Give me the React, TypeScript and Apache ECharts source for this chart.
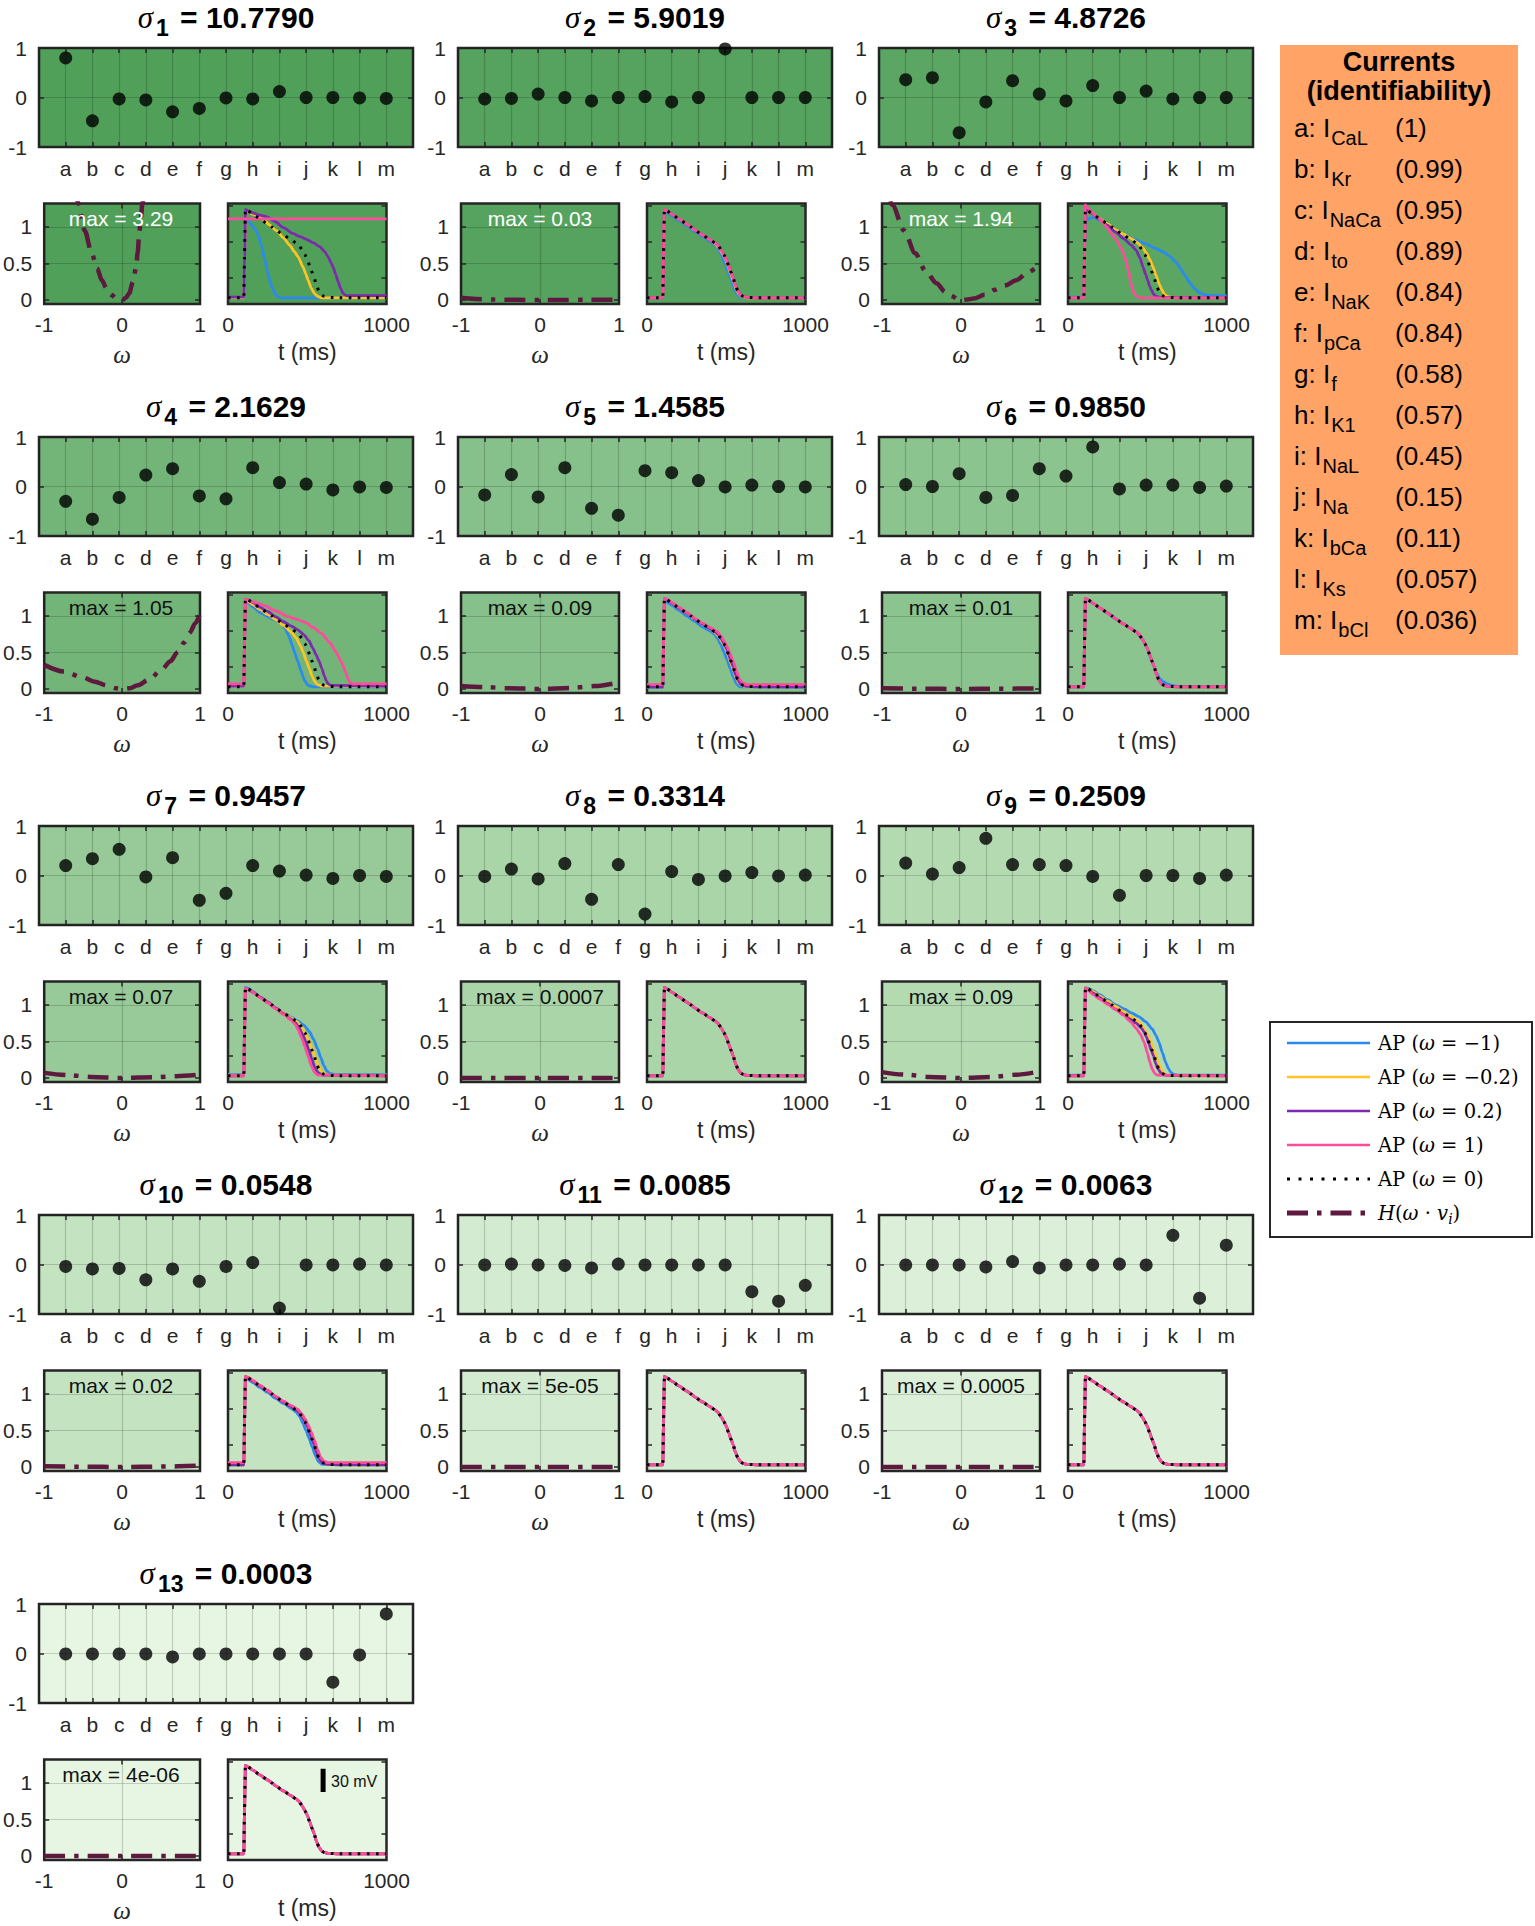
import React, { useEffect, useRef } from "react";
import * as echarts from "echarts";

// ---------------- data ----------------
const CATEGORIES = ["a", "b", "c", "d", "e", "f", "g", "h", "i", "j", "k", "l", "m"];
const SIGMA_INDEX = ["1", "2", "3", "4", "5", "6", "7", "8", "9", "10", "11", "12", "13"];
const SIGMA_VALUES = ["10.7790", "5.9019", "4.8726", "2.1629", "1.4585", "0.9850", "0.9457", "0.3314", "0.2509", "0.0548", "0.0085", "0.0063", "0.0003"];
const H_MAX_LABELS = ["3.29", "0.03", "1.94", "1.05", "0.09", "0.01", "0.07", "0.0007", "0.09", "0.02", "5e-05", "0.0005", "4e-06"];

const V1 = [0.8, -0.47, -0.03, -0.05, -0.29, -0.22, -0.01, -0.03, 0.12, 0.0, 0.0, -0.01, -0.02];
const V2 = [-0.03, -0.02, 0.07, 0.0, -0.07, 0.0, 0.02, -0.09, 0.0, 0.98, 0.0, 0.0, 0.0];
const V3 = [0.36, 0.4, -0.71, -0.09, 0.34, 0.07, -0.07, 0.24, 0.0, 0.13, -0.03, 0.0, 0.0];
const V4 = [-0.3, -0.66, -0.22, 0.23, 0.36, -0.19, -0.25, 0.38, 0.08, 0.05, -0.07, -0.01, -0.02];
const V5 = [-0.17, 0.24, -0.21, 0.38, -0.44, -0.58, 0.32, 0.28, 0.12, -0.01, 0.03, 0.0, -0.01];
const V6 = [0.04, 0.0, 0.26, -0.22, -0.18, 0.36, 0.21, 0.8, -0.05, 0.03, 0.03, -0.02, 0.01];
const V7 = [0.2, 0.34, 0.53, -0.03, 0.36, -0.5, -0.36, 0.2, 0.09, 0.01, -0.06, 0.0, -0.02];
const V8 = [-0.02, 0.13, -0.07, 0.24, -0.48, 0.22, -0.78, 0.08, -0.08, -0.01, 0.06, -0.01, 0.01];
const V9 = [0.25, 0.03, 0.16, 0.75, 0.22, 0.22, 0.2, -0.02, -0.4, 0.0, 0.0, -0.06, 0.01];
const V10 = [-0.04, -0.09, -0.08, -0.31, -0.09, -0.34, -0.04, 0.04, -0.88, -0.01, -0.01, 0.01, -0.01];
const V11 = [-0.01, 0.01, -0.01, -0.02, -0.07, 0.01, -0.01, -0.01, -0.01, -0.01, -0.55, -0.74, -0.42];
const V12 = [-0.01, -0.01, -0.01, -0.05, 0.06, -0.07, -0.01, -0.01, 0.01, -0.01, 0.59, -0.68, 0.39];
const V13 = [-0.01, -0.01, -0.01, -0.01, -0.07, -0.01, -0.01, -0.01, -0.01, -0.01, -0.58, -0.03, 0.8];

const H1 = [[-1, 3.29], [-0.8, 2.6], [-0.65, 1.85], [-0.56, 1.32], [-0.48, 0.95], [-0.39, 0.64], [-0.32, 0.43], [-0.26, 0.27], [-0.2, 0.16], [-0.14, 0.07], [-0.07, 0.02], [0, 0], [0.05, 0.03], [0.09, 0.09], [0.14, 0.25], [0.18, 0.45], [0.2, 0.65], [0.22, 0.91], [0.24, 1.1], [0.26, 1.32], [0.3, 1.7], [0.5, 2.6], [1, 3.2]];
const H2 = [[-1, 0.03], [-0.9, 0.02], [-0.8, 0.013], [-0.6, 0.007], [-0.3, 0.002], [0, 0], [0.3, 0.001], [0.6, 0.002], [1, 0.004]];
const H3 = [[-1, 1.94], [-0.87, 1.3], [-0.72, 0.95], [-0.58, 0.64], [-0.45, 0.4], [-0.31, 0.23], [-0.2, 0.11], [-0.11, 0.05], [-0.04, 0.01], [0.02, 0], [0.1, 0.01], [0.16, 0.02], [0.3, 0.07], [0.43, 0.14], [0.56, 0.2], [0.7, 0.27], [0.85, 0.38], [1, 0.5]];
const H4 = [[-1, 0.33], [-0.75, 0.24], [-0.51, 0.16], [-0.35, 0.1], [-0.2, 0.05], [-0.08, 0.01], [0, 0], [0.1, 0.01], [0.2, 0.05], [0.35, 0.13], [0.51, 0.27], [0.62, 0.38], [0.71, 0.5], [0.8, 0.64], [0.87, 0.77], [0.94, 0.9], [1, 1.03]];
const H5 = [[-1, 0.04], [-0.7, 0.025], [-0.4, 0.01], [0, 0], [0.4, 0.015], [0.7, 0.04], [1, 0.09]];
const H6 = [[-1, 0.01], [-0.5, 0.004], [0, 0], [0.5, 0.004], [1, 0.008]];
const H7 = [[-1, 0.07], [-0.7, 0.04], [-0.4, 0.015], [0, 0], [0.4, 0.01], [0.7, 0.025], [1, 0.045]];
const H8 = [[-1, 0.0007], [0, 0], [1, 0.0005]];
const H9 = [[-1, 0.08], [-0.7, 0.045], [-0.4, 0.015], [0, 0], [0.4, 0.015], [0.7, 0.045], [1, 0.09]];
const H10 = [[-1, 0.01], [-0.5, 0.003], [0, 0], [0.5, 0.005], [1, 0.02]];
const H11 = [[-1, 0.00005], [0, 0], [1, 0.00004]];
const H12 = [[-1, 0.0005], [0, 0], [1, 0.0004]];
const H13 = [[-1, 0.000004], [0, 0], [1, 0.000003]];

// AP (omega = 0), normalised
const AP_OMEGA0 = [[0, 0.03], [100, 0.03], [104, 0.6], [110, 1.24], [125, 1.22], [160, 1.17], [200, 1.11], [250, 1.04], [277, 1.0], [300, 0.96], [350, 0.89], [394, 0.83], [430, 0.78], [447, 0.75], [470, 0.68], [485, 0.62], [500, 0.56], [515, 0.47], [530, 0.38], [543, 0.31], [558, 0.2], [574, 0.12], [590, 0.07], [606, 0.05], [630, 0.035], [700, 0.03], [1000, 0.03]];

const AP1_BLUE = [[0, 0.03], [100, 0.03], [105, 0.6], [112, 1.11], [130, 1.08], [160, 1.0], [190, 0.9], [210, 0.75], [232, 0.55], [248, 0.4], [263, 0.27], [280, 0.16], [295, 0.09], [310, 0.05], [330, 0.03], [1000, 0.03]];
const AP1_YELLOW = [[0, 0.03], [100, 0.03], [105, 0.6], [112, 1.22], [125, 1.21], [160, 1.17], [221, 1.11], [260, 1.03], [305, 0.95], [350, 0.85], [389, 0.75], [420, 0.66], [442, 0.59], [474, 0.45], [490, 0.36], [505, 0.27], [526, 0.16], [545, 0.09], [565, 0.05], [590, 0.03], [1000, 0.03]];
const AP1_PURPLE = [[0, 0.04], [100, 0.04], [105, 0.6], [111, 1.24], [125, 1.22], [160, 1.19], [200, 1.16], [242, 1.14], [300, 1.07], [350, 0.99], [410, 0.91], [450, 0.87], [495, 0.83], [540, 0.78], [579, 0.73], [610, 0.66], [632, 0.59], [650, 0.51], [663, 0.45], [680, 0.35], [695, 0.25], [712, 0.15], [726, 0.09], [745, 0.06], [1000, 0.06]];
const AP1_PINK = [[0, 1.11], [1000, 1.11]];

const AP2_BLUE = [[0, 0.03], [100, 0.03], [104, 0.6], [110, 1.22], [125, 1.2], [160, 1.15], [200, 1.09], [250, 1.02], [300, 0.94], [350, 0.87], [400, 0.8], [430, 0.75], [452, 0.69], [472, 0.6], [492, 0.5], [512, 0.39], [532, 0.27], [552, 0.15], [572, 0.07], [595, 0.035], [1000, 0.03]];
const AP2_YELLOW = [[0, 0.03], [100, 0.03], [104, 0.6], [110, 1.24], [125, 1.22], [160, 1.17], [200, 1.11], [250, 1.04], [300, 0.96], [350, 0.89], [394, 0.83], [430, 0.77], [455, 0.71], [478, 0.63], [495, 0.56], [512, 0.46], [528, 0.36], [545, 0.26], [562, 0.15], [580, 0.08], [600, 0.045], [625, 0.03], [1000, 0.03]];

const AP3_BLUE = [[0, 0.04], [100, 0.04], [104, 0.6], [110, 1.18], [122, 1.1], [140, 1.12], [160, 1.13], [200, 1.09], [250, 1.02], [305, 0.95], [360, 0.89], [420, 0.83], [488, 0.77], [550, 0.71], [600, 0.66], [640, 0.6], [680, 0.52], [710, 0.43], [740, 0.33], [770, 0.23], [800, 0.15], [830, 0.1], [860, 0.07], [900, 0.06], [1000, 0.06]];
const AP3_YELLOW = [[0, 0.03], [100, 0.03], [104, 0.6], [110, 1.24], [125, 1.22], [160, 1.17], [200, 1.11], [250, 1.04], [300, 0.96], [350, 0.9], [400, 0.84], [440, 0.78], [470, 0.72], [495, 0.64], [515, 0.56], [535, 0.46], [555, 0.34], [575, 0.22], [592, 0.14], [608, 0.08], [625, 0.05], [650, 0.035], [1000, 0.03]];
const AP3_PURPLE = [[0, 0.03], [100, 0.03], [104, 0.6], [110, 1.24], [125, 1.22], [160, 1.17], [200, 1.1], [250, 1.02], [300, 0.93], [350, 0.84], [400, 0.75], [430, 0.68], [455, 0.57], [473, 0.45], [490, 0.35], [503, 0.27], [515, 0.19], [525, 0.14], [540, 0.08], [555, 0.05], [580, 0.035], [1000, 0.03]];
const AP3_PINK = [[0, 0.03], [100, 0.03], [104, 0.6], [109, 1.3], [125, 1.26], [150, 1.2], [183, 1.14], [215, 1.07], [244, 1.0], [275, 0.91], [305, 0.82], [330, 0.73], [351, 0.64], [368, 0.52], [381, 0.41], [390, 0.31], [397, 0.23], [410, 0.13], [421, 0.07], [440, 0.04], [470, 0.03], [1000, 0.03]];

const AP4_BLUE = [[0, 0.06], [100, 0.06], [104, 0.6], [110, 1.2], [125, 1.18], [160, 1.12], [200, 1.05], [250, 0.99], [300, 0.94], [333, 0.9], [360, 0.83], [385, 0.72], [405, 0.6], [420, 0.5], [440, 0.38], [460, 0.25], [475, 0.16], [487, 0.1], [505, 0.05], [538, 0.03], [1000, 0.03]];
const AP4_YELLOW = [[0, 0.04], [100, 0.04], [104, 0.6], [110, 1.22], [125, 1.2], [160, 1.15], [200, 1.09], [250, 1.02], [300, 0.95], [350, 0.87], [400, 0.78], [430, 0.7], [455, 0.6], [475, 0.5], [495, 0.38], [513, 0.28], [530, 0.18], [548, 0.1], [564, 0.06], [590, 0.04], [1000, 0.04]];
const AP4_PURPLE = [[0, 0.04], [100, 0.04], [104, 0.6], [110, 1.23], [125, 1.22], [160, 1.18], [200, 1.12], [250, 1.06], [300, 0.99], [350, 0.92], [400, 0.86], [440, 0.81], [480, 0.74], [510, 0.66], [535, 0.56], [555, 0.47], [575, 0.38], [592, 0.28], [608, 0.18], [620, 0.11], [632, 0.07], [650, 0.05], [1000, 0.04]];
const AP4_PINK = [[0, 0.07], [100, 0.07], [104, 0.6], [110, 1.23], [125, 1.22], [160, 1.19], [231, 1.14], [300, 1.07], [380, 0.99], [440, 0.95], [487, 0.91], [540, 0.84], [590, 0.76], [641, 0.64], [680, 0.51], [718, 0.36], [740, 0.24], [755, 0.15], [769, 0.09], [785, 0.07], [1000, 0.07]];

const AP5_BLUE = [[0, 0.02], [100, 0.02], [104, 0.6], [110, 1.21], [125, 1.19], [160, 1.14], [200, 1.08], [250, 1.0], [300, 0.93], [350, 0.85], [400, 0.79], [425, 0.75], [445, 0.69], [465, 0.61], [485, 0.51], [505, 0.4], [525, 0.28], [545, 0.16], [565, 0.07], [585, 0.03], [1000, 0.02]];
const AP5_PINK = [[0, 0.06], [100, 0.06], [104, 0.6], [110, 1.24], [125, 1.23], [160, 1.18], [200, 1.12], [250, 1.05], [300, 0.97], [350, 0.9], [400, 0.84], [440, 0.79], [465, 0.73], [485, 0.66], [505, 0.58], [525, 0.48], [545, 0.37], [565, 0.24], [585, 0.13], [605, 0.08], [630, 0.06], [1000, 0.06]];

const AP6_BLUE = [[0, 0.03], [100, 0.03], [104, 0.6], [110, 1.24], [125, 1.22], [160, 1.17], [200, 1.11], [250, 1.04], [300, 0.96], [350, 0.89], [394, 0.83], [430, 0.78], [470, 0.68], [500, 0.56], [530, 0.38], [558, 0.22], [580, 0.14], [600, 0.1], [625, 0.07], [655, 0.05], [700, 0.035], [1000, 0.03]];

const AP7_BLUE = [[0, 0.05], [100, 0.05], [104, 0.6], [110, 1.24], [125, 1.23], [160, 1.18], [200, 1.11], [250, 1.04], [300, 0.96], [350, 0.89], [400, 0.83], [440, 0.78], [480, 0.72], [515, 0.63], [540, 0.53], [565, 0.4], [585, 0.28], [605, 0.17], [625, 0.09], [645, 0.06], [670, 0.05], [1000, 0.05]];
const AP7_YELLOW = [[0, 0.04], [100, 0.04], [104, 0.6], [110, 1.23], [125, 1.21], [160, 1.17], [200, 1.11], [250, 1.04], [300, 0.96], [350, 0.89], [400, 0.82], [435, 0.77], [460, 0.71], [485, 0.62], [508, 0.52], [530, 0.4], [550, 0.28], [570, 0.17], [590, 0.09], [610, 0.05], [640, 0.04], [1000, 0.04]];
const AP7_PURPLE = [[0, 0.03], [100, 0.03], [104, 0.6], [110, 1.23], [125, 1.21], [160, 1.17], [200, 1.11], [250, 1.04], [300, 0.96], [350, 0.88], [400, 0.8], [428, 0.75], [450, 0.68], [470, 0.6], [490, 0.5], [510, 0.38], [530, 0.25], [550, 0.13], [570, 0.07], [595, 0.04], [1000, 0.03]];
const AP7_PINK = [[0, 0.03], [100, 0.03], [104, 0.6], [110, 1.23], [125, 1.21], [160, 1.17], [200, 1.1], [250, 1.03], [300, 0.95], [350, 0.87], [400, 0.79], [425, 0.73], [445, 0.65], [465, 0.55], [485, 0.43], [505, 0.3], [525, 0.17], [545, 0.08], [565, 0.04], [1000, 0.03]];

const AP9_BLUE = [[0, 0.04], [100, 0.04], [104, 0.6], [110, 1.24], [125, 1.23], [160, 1.19], [200, 1.14], [250, 1.07], [300, 1.0], [359, 0.94], [400, 0.89], [447, 0.84], [490, 0.77], [532, 0.67], [555, 0.58], [574, 0.49], [595, 0.35], [617, 0.21], [633, 0.13], [649, 0.08], [665, 0.05], [690, 0.04], [1000, 0.04]];
const AP9_YELLOW = [[0, 0.03], [100, 0.03], [104, 0.6], [110, 1.24], [125, 1.22], [160, 1.18], [200, 1.12], [250, 1.05], [300, 0.98], [350, 0.91], [400, 0.84], [447, 0.77], [470, 0.71], [500, 0.6], [520, 0.5], [545, 0.36], [560, 0.27], [574, 0.19], [590, 0.11], [606, 0.06], [625, 0.04], [650, 0.03], [1000, 0.03]];
const AP9_PURPLE = [[0, 0.03], [100, 0.03], [104, 0.6], [110, 1.23], [125, 1.21], [160, 1.16], [200, 1.1], [250, 1.02], [300, 0.94], [350, 0.87], [394, 0.8], [430, 0.75], [465, 0.68], [480, 0.63], [495, 0.56], [510, 0.47], [525, 0.38], [538, 0.31], [553, 0.2], [569, 0.12], [585, 0.07], [601, 0.05], [625, 0.035], [1000, 0.03]];
const AP9_PINK = [[0, 0.03], [100, 0.03], [104, 0.6], [110, 1.23], [125, 1.2], [160, 1.14], [200, 1.08], [256, 1.0], [300, 0.94], [350, 0.86], [394, 0.77], [430, 0.68], [457, 0.6], [480, 0.49], [500, 0.35], [516, 0.22], [532, 0.12], [548, 0.06], [564, 0.04], [1000, 0.03]];

// per panel traces: [blue (w=-1), yellow (w=-0.2), purple (w=0.2), pink (w=1)]
const AP_BLUE = [AP1_BLUE, AP2_BLUE, AP3_BLUE, AP4_BLUE, AP5_BLUE, AP6_BLUE, AP7_BLUE, AP_OMEGA0, AP9_BLUE, AP2_BLUE, AP_OMEGA0, AP_OMEGA0, AP_OMEGA0];
const AP_YELLOW = [AP1_YELLOW, AP2_YELLOW, AP3_YELLOW, AP4_YELLOW, AP2_YELLOW, AP_OMEGA0, AP7_YELLOW, AP_OMEGA0, AP9_YELLOW, AP_OMEGA0, AP_OMEGA0, AP_OMEGA0, AP_OMEGA0];
const AP_PURPLE = [AP1_PURPLE, AP_OMEGA0, AP3_PURPLE, AP4_PURPLE, AP_OMEGA0, AP_OMEGA0, AP7_PURPLE, AP_OMEGA0, AP9_PURPLE, AP_OMEGA0, AP_OMEGA0, AP_OMEGA0, AP_OMEGA0];
const AP_PINK = [AP1_PINK, AP_OMEGA0, AP3_PINK, AP4_PINK, AP5_PINK, AP_OMEGA0, AP7_PINK, AP_OMEGA0, AP9_PINK, AP5_PINK, AP_OMEGA0, AP_OMEGA0, AP_OMEGA0];

const DOTS = [V1, V2, V3, V4, V5, V6, V7, V8, V9, V10, V11, V12, V13];
const HCURVES = [H1, H2, H3, H4, H5, H6, H7, H8, H9, H10, H11, H12, H13];

// AP axis tick positions (normalised units) and 30 mV scale bar for the last panel
const AP_TICKS = [0.31, 0.8, 1.29];
const SCALE_BAR = [[600, 0.875], [600, 1.195]];
const SCALE_BAR_LABEL = "30 mV";

const CURRENT_SUBS = ["CaL", "Kr", "NaCa", "to", "NaK", "pCa", "f", "K1", "NaL", "Na", "bCa", "Ks", "bCl"];
const IDENTIFIABILITY = ["(1)", "(0.99)", "(0.95)", "(0.89)", "(0.84)", "(0.84)", "(0.58)", "(0.57)", "(0.45)", "(0.15)", "(0.11)", "(0.057)", "(0.036)"];

const LEGEND_OMEGAS = ["−1", "−0.2", "0.2", "1", "0"];

// ---------------- styles ----------------
const BG = ["#50a05a", "#55a35e", "#5aa662", "#73b578", "#86c08a", "#8cc48f", "#97ca98", "#a9d5a8", "#b4dab2", "#c4e3c1", "#d3ebd0", "#dcf0d9", "#e6f6e2"];
const C_BLUE = "#2a8af0";
const C_YELLOW = "#ffc323";
const C_PURPLE = "#7e2aae";
const C_PINK = "#ff4b9b";
const C_MAROON = "#5e1a3e";
const AX = "#262626";
const GRIDLINE = "rgba(0,0,0,0.17)";
const SANS = '"Liberation Sans", Arial, Helvetica, sans-serif';
const SERIF = '"Liberation Serif", "Times New Roman", serif';
const LSERIF = '"DejaVu Serif", serif';
const DASHDOT = [21, 9, 4.5, 9];
const DOTTED = [2.6, 6.4];

const ROW_STEP = 389;
const COL_X = [0, 419, 840];

function buildOption() {
  const grid: any[] = [];
  const xAxis: any[] = [];
  const yAxis: any[] = [];
  const series: any[] = [];
  const g: any[] = [];

  const tick = (show: boolean, custom?: number[]) => ({
    show,
    inside: true,
    length: 5,
    lineStyle: { color: AX, width: 1.5 },
    ...(custom ? { customValues: custom } : {}),
  });
  const noLine = { show: false, onZero: false };

  for (let k = 0; k < 13; k++) {
    const r = Math.floor(k / 3);
    const c = k % 3;
    const dx = COL_X[c];
    const dy = r * ROW_STEP;
    const box = { show: true, backgroundColor: BG[k], borderColor: AX, borderWidth: 2.5 };

    // ---- dot plot ----
    grid.push({ ...box, left: 39 + dx, top: 48 + dy, width: 374, height: 99 });
    let gi = grid.length - 1;
    const xD = xAxis.length;
    xAxis.push({
      type: "value", gridIndex: gi, position: "bottom", min: 0, max: 14, interval: 1,
      axisLine: noLine, axisTick: tick(true),
      axisLabel: { formatter: (v: number) => CATEGORIES[Math.round(v) - 1] ?? "", fontSize: 21, color: AX, fontFamily: SANS, margin: 11 },
      splitLine: { show: true, lineStyle: { color: GRIDLINE, width: 1.2 } },
    });
    xAxis.push({ type: "value", gridIndex: gi, position: "top", min: 0, max: 14, interval: 1, axisLine: noLine, axisTick: tick(true), axisLabel: { show: false }, splitLine: { show: false } });
    const yD = yAxis.length;
    yAxis.push({
      type: "value", gridIndex: gi, position: "left", min: -1, max: 1, interval: 1,
      axisLine: noLine, axisTick: tick(true),
      axisLabel: { fontSize: 21, color: AX, fontFamily: SANS, margin: 12 },
      splitLine: { show: true, lineStyle: { color: GRIDLINE, width: 1.2 } },
    });
    yAxis.push({ type: "value", gridIndex: gi, position: "right", min: -1, max: 1, interval: 1, axisLine: noLine, axisTick: tick(true), axisLabel: { show: false }, splitLine: { show: false } });
    series.push({
      type: "scatter", xAxisIndex: xD, yAxisIndex: yD,
      data: DOTS[k].map((v, i) => [i + 1, v]),
      symbolSize: 13, itemStyle: { color: "#000" }, z: 5,
    });

    // ---- H plot ----
    grid.push({ ...box, left: 42 + dx, top: 203.5 + dy, width: 158, height: 100.5 });
    gi = grid.length - 1;
    const xH = xAxis.length;
    xAxis.push({
      type: "value", gridIndex: gi, position: "bottom", min: -1, max: 1, interval: 1,
      axisLine: noLine, axisTick: tick(true),
      axisLabel: { fontSize: 21, color: AX, fontFamily: SANS, margin: 10, showMinLabel: true, showMaxLabel: true },
      splitLine: { show: true, lineStyle: { color: GRIDLINE, width: 1.2 } },
      name: "ω", nameLocation: "middle", nameGap: 38,
      nameTextStyle: { fontFamily: SERIF, fontStyle: "italic", fontSize: 25, color: AX },
    });
    xAxis.push({ type: "value", gridIndex: gi, position: "top", min: -1, max: 1, interval: 1, axisLine: noLine, axisTick: tick(true), axisLabel: { show: false }, splitLine: { show: false } });
    const yH = yAxis.length;
    yAxis.push({
      type: "value", gridIndex: gi, position: "left", min: -0.055, max: 1.32,
      axisLine: noLine, axisTick: tick(true, [0, 0.5, 1]),
      axisLabel: { customValues: [0, 0.5, 1], fontSize: 21, color: AX, fontFamily: SANS, margin: 12 },
      splitLine: { show: false },
    });
    yAxis.push({ type: "value", gridIndex: gi, position: "right", min: -0.055, max: 1.32, axisLine: noLine, axisTick: tick(true, [0, 0.5, 1]), axisLabel: { show: false }, splitLine: { show: false } });
    series.push({
      type: "line", xAxisIndex: xH, yAxisIndex: yH, data: HCURVES[k],
      showSymbol: false, symbol: "none", smooth: 0.3, smoothMonotone: "x", clip: true,
      lineStyle: { color: C_MAROON, width: 4.5, type: DASHDOT },
      markLine: {
        silent: true, symbol: "none", label: { show: false },
        lineStyle: { color: GRIDLINE, width: 1.2, type: "solid" },
        data: [{ yAxis: 0.5 }, { yAxis: 1 }],
      },
      z: 3,
    });

    // ---- AP plot ----
    grid.push({ ...box, left: 228 + dx, top: 203.5 + dy, width: 158.5, height: 100.5 });
    gi = grid.length - 1;
    const xA = xAxis.length;
    xAxis.push({
      type: "value", gridIndex: gi, position: "bottom", min: 0, max: 1000, interval: 1000,
      axisLine: noLine, axisTick: { show: false },
      axisLabel: { formatter: (v: number) => String(v), fontSize: 21, color: AX, fontFamily: SANS, margin: 10, showMinLabel: true, showMaxLabel: true },
      splitLine: { show: false },
      name: "t (ms)", nameLocation: "middle", nameGap: 36,
      nameTextStyle: { fontFamily: SANS, fontSize: 23, color: AX },
    });
    const yA = yAxis.length;
    yAxis.push({
      type: "value", gridIndex: gi, position: "left", min: -0.055, max: 1.32,
      axisLine: noLine, axisTick: tick(true, AP_TICKS),
      axisLabel: { show: false }, splitLine: { show: false },
    });
    yAxis.push({ type: "value", gridIndex: gi, position: "right", min: -0.055, max: 1.32, axisLine: noLine, axisTick: tick(true, AP_TICKS), axisLabel: { show: false }, splitLine: { show: false } });

    const traces: [any[], string][] = [
      [AP_BLUE[k], C_BLUE],
      [AP_YELLOW[k], C_YELLOW],
      [AP_PURPLE[k], C_PURPLE],
      [AP_PINK[k], C_PINK],
    ];
    traces.forEach(([data, color]) => {
      series.push({
        type: "line", xAxisIndex: xA, yAxisIndex: yA, data,
        showSymbol: false, symbol: "none", smooth: 0.2, smoothMonotone: "x",
        lineStyle: { color, width: 2.8 }, z: 3,
      });
    });
    series.push({
      type: "line", xAxisIndex: xA, yAxisIndex: yA, data: AP_OMEGA0,
      showSymbol: false, symbol: "none", smooth: 0.2, smoothMonotone: "x",
      lineStyle: { color: "#000", width: 3, type: DOTTED, cap: "butt" }, z: 4,
    });
    if (k === 12) {
      series.push({
        type: "line", xAxisIndex: xA, yAxisIndex: yA, data: SCALE_BAR,
        showSymbol: false, symbol: "none", lineStyle: { color: "#000", width: 5 }, z: 5,
      });
      g.push({
        type: "text", x: 331 + dx, y: 1781.5, z: 100,
        style: { text: SCALE_BAR_LABEL, fontSize: 16, fontFamily: SANS, fill: "#111", align: "left", verticalAlign: "middle" },
      });
    }

    // ---- titles and max labels ----
    g.push({
      type: "text", x: 226 + dx, y: 17 + dy, z: 100,
      style: {
        text: `{s|σ}{n|${SIGMA_INDEX[k]}}{v| = ${SIGMA_VALUES[k]}}`,
        align: "center", verticalAlign: "middle",
        rich: {
          s: { fontFamily: SERIF, fontStyle: "italic", fontSize: 31, fill: "#000", verticalAlign: "middle" },
          n: { fontFamily: SANS, fontWeight: "bold", fontSize: 23, fill: "#000", padding: [22, 3, 0, 3], verticalAlign: "middle" },
          v: { fontFamily: SANS, fontWeight: "bold", fontSize: 30, fill: "#000", verticalAlign: "middle" },
        },
      },
    });
    g.push({
      type: "text", x: 121 + dx, y: 218 + dy, z: 100,
      style: {
        text: `max = ${H_MAX_LABELS[k]}`, fontSize: 21, fontFamily: SANS,
        fill: k < 3 ? "#ffffff" : "#111111", align: "center", verticalAlign: "middle",
      },
    });
  }

  // ---- currents box ----
  g.push({ type: "rect", z: 90, shape: { x: 1280, y: 45, width: 238, height: 610 }, style: { fill: "#ffa366" } });
  g.push({ type: "text", z: 100, x: 1399, y: 62, style: { text: "Currents", fontSize: 27, fontWeight: "bold", fontFamily: SANS, fill: "#000", align: "center", verticalAlign: "middle" } });
  g.push({ type: "text", z: 100, x: 1399, y: 91, style: { text: "(identifiability)", fontSize: 27, fontWeight: "bold", fontFamily: SANS, fill: "#000", align: "center", verticalAlign: "middle" } });
  CURRENT_SUBS.forEach((sub, i) => {
    const y = 128 + i * 41;
    g.push({
      type: "text", z: 100, x: 1294, y,
      style: {
        text: `{n|${CATEGORIES[i]}: I}{s|${sub}}`, align: "left", verticalAlign: "middle",
        rich: {
          n: { fontFamily: SANS, fontSize: 26, fill: "#000", verticalAlign: "middle" },
          s: { fontFamily: SANS, fontSize: 20, fill: "#000", padding: [20, 0, 0, 1], verticalAlign: "middle" },
        },
      },
    });
    g.push({
      type: "text", z: 100, x: 1395, y,
      style: { text: IDENTIFIABILITY[i], fontFamily: SANS, fontSize: 26, fill: "#000", align: "left", verticalAlign: "middle" },
    });
  });

  // ---- legend box ----
  g.push({ type: "rect", z: 90, shape: { x: 1270, y: 1022, width: 262, height: 215 }, style: { fill: "#ffffff", stroke: AX, lineWidth: 2 } });
  const legendLines: [string, number, any, string][] = [
    [C_BLUE, 2.6, "solid", "butt"],
    [C_YELLOW, 2.6, "solid", "butt"],
    [C_PURPLE, 2.6, "solid", "butt"],
    [C_PINK, 2.6, "solid", "butt"],
    ["#000", 3, [3, 8.5], "butt"],
    [C_MAROON, 5, DASHDOT, "butt"],
  ];
  const lrich = {
    r: { fontFamily: LSERIF, fontSize: 19.5, fill: "#000", verticalAlign: "middle" },
    i: { fontFamily: LSERIF, fontStyle: "italic", fontSize: 19.5, fill: "#000", verticalAlign: "middle" },
    b: { fontFamily: LSERIF, fontStyle: "italic", fontSize: 14, fill: "#000", padding: [12, 0, 0, 0], verticalAlign: "middle" },
  };
  legendLines.forEach(([color, w, dash, cap], i) => {
    const y = 1043 + i * 34;
    g.push({
      type: "line", z: 100, shape: { x1: 1287, y1: y, x2: 1370, y2: y },
      style: { stroke: color, lineWidth: w, lineDash: dash === "solid" ? null : dash, lineCap: cap },
    });
    const text = i < 5 ? `{r|AP (}{i|ω}{r| = ${LEGEND_OMEGAS[i]})}` : `{i|H}{r|(}{i|ω}{r| · }{i|v}{b|i}{r|)}`;
    g.push({ type: "text", z: 100, x: 1378, y, style: { text, rich: lrich, align: "left", verticalAlign: "middle" } });
  });

  return {
    animation: false,
    backgroundColor: "#ffffff",
    grid, xAxis, yAxis, series,
    graphic: { elements: g },
  };
}

export default function App() {
  const ref = useRef<HTMLDivElement>(null);
  useEffect(() => {
    if (!ref.current) return;
    const chart = echarts.init(ref.current, undefined, { renderer: "svg" });
    chart.setOption(buildOption() as any);
    return () => chart.dispose();
  }, []);
  return (
    <div
      ref={ref}
      style={{ position: "absolute", left: 0, top: 0, width: 1535, height: 1926, background: "#fff" }}
    />
  );
}
